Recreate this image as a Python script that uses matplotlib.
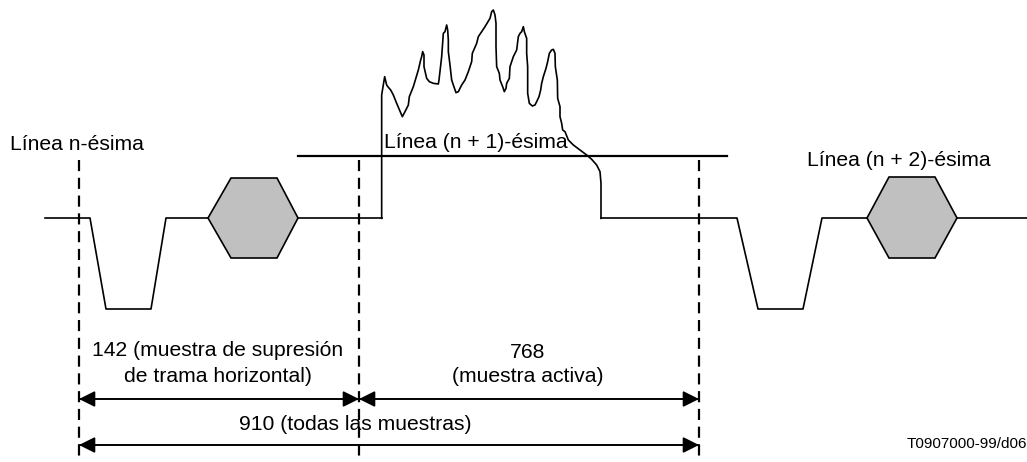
import matplotlib
matplotlib.use("Agg")
import matplotlib.pyplot as plt
from matplotlib.patches import Polygon, FancyArrowPatch

plt.rcParams['font.family'] = ['Liberation Sans', 'DejaVu Sans']

W, H = 1027, 462

# Sync / blanking waveform pieces (pixel coordinates)
left_x = [45, 90, 106, 151, 166, 208]
left_y = [218, 218, 309, 309, 218, 218]
hex_left_x = [208, 231, 277, 298, 277, 231]
hex_left_y = [218, 178, 178, 218, 258, 258]
mid_x = [298, 382]
mid_y = [218, 218]

# active video trace (zoom coords: X/3 + 370, Y/3)
act_X = [35, 35, 44, 50, 55, 62, 70, 80, 97, 105, 115, 118, 130, 145, 152, 155, 158, 162, 162,
         170, 178, 190, 205, 207, 215, 220, 225, 230, 233, 235, 235, 240, 245, 250, 258, 265,
         275, 285, 295, 305, 307, 320, 325, 335, 345, 360, 365, 370, 375, 378, 378, 380, 388,
         390, 398, 403, 408, 410, 418, 420, 430, 440, 445, 450, 455, 460, 463, 470, 470, 473,
         473, 478, 487, 495, 500, 507, 512, 515, 520, 528, 533, 538, 545, 550, 555, 556, 562,
         563, 570, 570, 575, 578, 585, 595, 610, 630, 650, 665, 680, 690, 693, 693]
act_Y = [655, 285, 230, 255, 262, 270, 285, 310, 350, 335, 315, 290, 260, 210, 180, 170, 155, 165, 200,
         235, 245, 250, 252, 240, 170, 100, 95, 75, 90, 120, 155, 195, 240, 255, 278, 275,
         255, 240, 215, 185, 160, 130, 110, 95, 80, 55, 35, 30, 45, 70, 140, 200, 220,
         240, 260, 275, 265, 250, 235, 200, 170, 150, 110, 100, 95, 80, 95, 115, 160, 200,
         280, 310, 318, 315, 305, 290, 270, 250, 230, 205, 185, 160, 150, 148, 160, 200, 240,
         295, 320, 350, 370, 390, 395, 420, 435, 450, 465, 478, 495, 515, 550, 655]

right_x = [601, 737, 758, 803, 822, 867]
right_y = [218, 218, 309, 309, 218, 218]
hex_right_x = [867, 889, 935, 957, 935, 889]
hex_right_y = [218, 177, 177, 218, 258, 258]
end_x = [957, 1027]
end_y = [218, 218]

dash_x = [79, 359, 699]
dash_top = 160
hline_x = [298, 727]
hline_y = 156

fig = plt.figure(figsize=(W / 100, H / 100), dpi=100)
ax = fig.add_axes([0, 0, 1, 1])
ax.set_xlim(0, W)
ax.set_ylim(H, 0)
ax.axis('off')

lw = 1.2
ax.plot(left_x, left_y, color='black', lw=lw)
ax.plot(mid_x, mid_y, color='black', lw=lw)
ax.plot(right_x, right_y, color='black', lw=lw)
ax.plot(end_x, end_y, color='black', lw=lw)
ax.add_patch(Polygon(list(zip(hex_left_x, hex_left_y)), closed=True, fc='#c0c0c0', ec='black', lw=lw))
ax.add_patch(Polygon(list(zip(hex_right_x, hex_right_y)), closed=True, fc='#c0c0c0', ec='black', lw=lw))

ax_x = [370 + X / 3 for X in act_X]
ax_y = [Y / 3 for Y in act_Y]
ax.plot(ax_x, ax_y, color='black', lw=lw)
ax.plot([ax_x[-1], 601], [ax_y[-1], 218], color='black', lw=lw)

ax.plot(hline_x, [hline_y, hline_y], color='black', lw=1.6)

for x in dash_x:
    ax.plot([x, x], [dash_top, H], color='black', lw=1.6, dashes=(5, 3))

def dim_arrow(x0, x1, y):
    for a, b in ((x0, x1), (x1, x0)):
        ax.add_patch(FancyArrowPatch((a, y), (b, y),
                                     arrowstyle='-|>,head_length=0.7,head_width=0.35',
                                     color='black', lw=1.2, shrinkA=0, shrinkB=0,
                                     mutation_scale=14))

dim_arrow(79, 359, 399)
dim_arrow(359, 699, 399)
dim_arrow(79, 699, 445)

fs = 15.2
ax.text(10, 145, 'Línea n-ésima', fontsize=fs, ha='left', va='center')
ax.text(384, 143, 'Línea (n + 1)-ésima', fontsize=fs, ha='left', va='center')
ax.text(807, 161, 'Línea (n + 2)-ésima', fontsize=fs, ha='left', va='center')
ax.text(218, 351, '142 (muestra de supresión', fontsize=fs, ha='center', va='center')
ax.text(218, 377, 'de trama horizontal)', fontsize=fs, ha='center', va='center')
ax.text(528, 352, '768', fontsize=fs, ha='center', va='center')
ax.text(528, 377, '(muestra activa)', fontsize=fs, ha='center', va='center')
ax.text(355, 425, '910 (todas las muestras)', fontsize=fs, ha='center', va='center')
ax.text(907, 444, 'T0907000-99/d06', fontsize=11, ha='left', va='center')

fig.savefig('out.png', dpi=100)
